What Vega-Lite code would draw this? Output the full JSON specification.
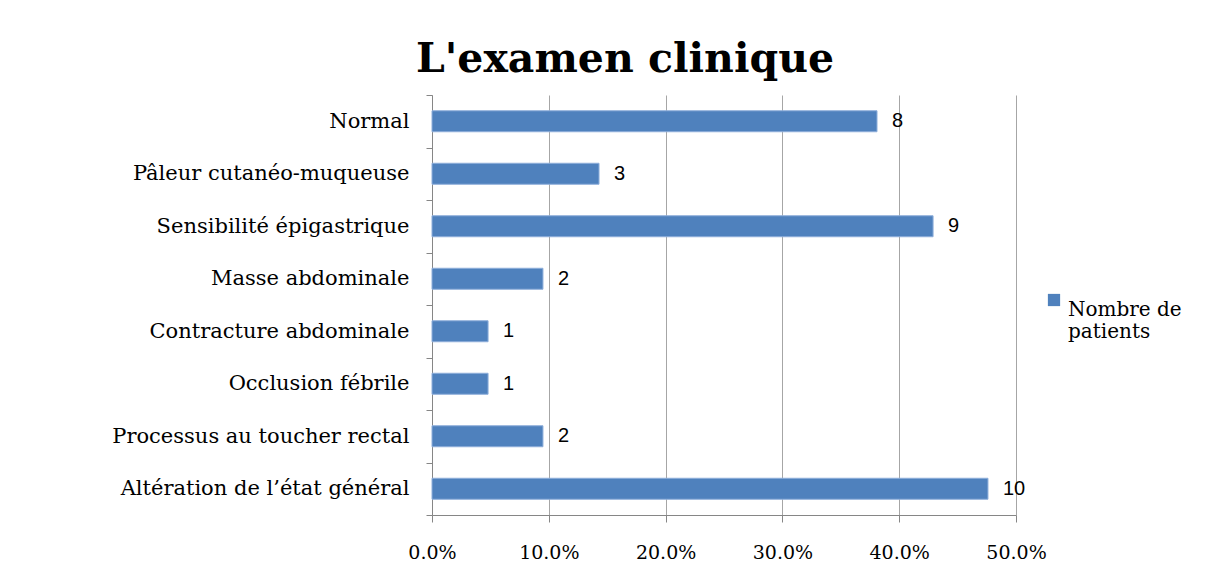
{
  "$schema": "https://vega.github.io/schema/vega-lite/v6.json",
  "width": 584,
  "height": 420,
  "autosize": {"type": "none"},
  "padding": {"left": 432, "top": 95, "right": 213, "bottom": 58},
  "background": "white",
  "title": {
    "text": "L'examen clinique",
    "font": "DejaVu Serif",
    "fontSize": 41,
    "fontWeight": "bold",
    "color": "black",
    "anchor": "middle",
    "frame": "group",
    "dx": -99,
    "offset": 3
  },
  "data": {
    "values": [
      {"categorie": "Normal", "patients": 8, "pourcentage": 0.381, "serie": "Nombre de patients"},
      {"categorie": "Pâleur cutanéo-muqueuse", "patients": 3, "pourcentage": 0.143, "serie": "Nombre de patients"},
      {"categorie": "Sensibilité épigastrique", "patients": 9, "pourcentage": 0.429, "serie": "Nombre de patients"},
      {"categorie": "Masse abdominale", "patients": 2, "pourcentage": 0.095, "serie": "Nombre de patients"},
      {"categorie": "Contracture abdominale", "patients": 1, "pourcentage": 0.048, "serie": "Nombre de patients"},
      {"categorie": "Occlusion fébrile", "patients": 1, "pourcentage": 0.048, "serie": "Nombre de patients"},
      {"categorie": "Processus au toucher rectal", "patients": 2, "pourcentage": 0.095, "serie": "Nombre de patients"},
      {"categorie": "Altération de l’état général", "patients": 10, "pourcentage": 0.476, "serie": "Nombre de patients"}
    ]
  },
  "encoding": {
    "y": {
      "field": "categorie",
      "type": "nominal",
      "sort": null,
      "scale": {"paddingInner": 0, "paddingOuter": 0},
      "axis": {
        "title": null,
        "domainColor": "#868686",
        "tickColor": "#868686",
        "tickSize": 6,
        "tickBand": "extent",
        "labelFont": "DejaVu Serif",
        "labelFontSize": 21,
        "labelColor": "black",
        "labelPadding": 17,
        "labelLimit": 420
      }
    },
    "x": {
      "field": "pourcentage",
      "type": "quantitative",
      "scale": {"domain": [0, 0.5], "nice": false},
      "axis": {
        "title": null,
        "values": [0, 0.1, 0.2, 0.3, 0.4, 0.5],
        "format": ".1%",
        "grid": true,
        "gridColor": "#A6A6A6",
        "domainColor": "#868686",
        "tickColor": "#868686",
        "tickSize": 7,
        "labelFlush": false,
        "labelFont": "DejaVu Serif",
        "labelFontSize": 19,
        "labelColor": "black",
        "labelPadding": 21
      }
    }
  },
  "layer": [
    {
      "mark": {"type": "bar", "size": 21, "stroke": "#8EAEDA", "strokeWidth": 1},
      "encoding": {
        "color": {
          "field": "serie",
          "type": "nominal",
          "scale": {"range": ["#4F81BD"]},
          "legend": {
            "title": null,
            "orient": "none",
            "legendX": 612,
            "legendY": 195,
            "symbolType": "square",
            "symbolSize": 150,
            "symbolStrokeWidth": 0,
            "labelFont": "DejaVu Serif",
            "labelFontSize": 20,
            "labelLineHeight": 28,
            "labelColor": "black",
            "labelBaseline": "top",
            "labelOffset": 4,
            "labelLimit": 300,
            "labelExpr": "['Nombre de', 'patients']"
          }
        }
      }
    },
    {
      "mark": {
        "type": "text",
        "align": "left",
        "baseline": "middle",
        "dx": 15,
        "font": "Liberation Sans",
        "fontSize": 20,
        "color": "black"
      },
      "encoding": {
        "text": {"field": "patients", "type": "quantitative"}
      }
    }
  ],
  "config": {
    "view": {"stroke": null}
  }
}
